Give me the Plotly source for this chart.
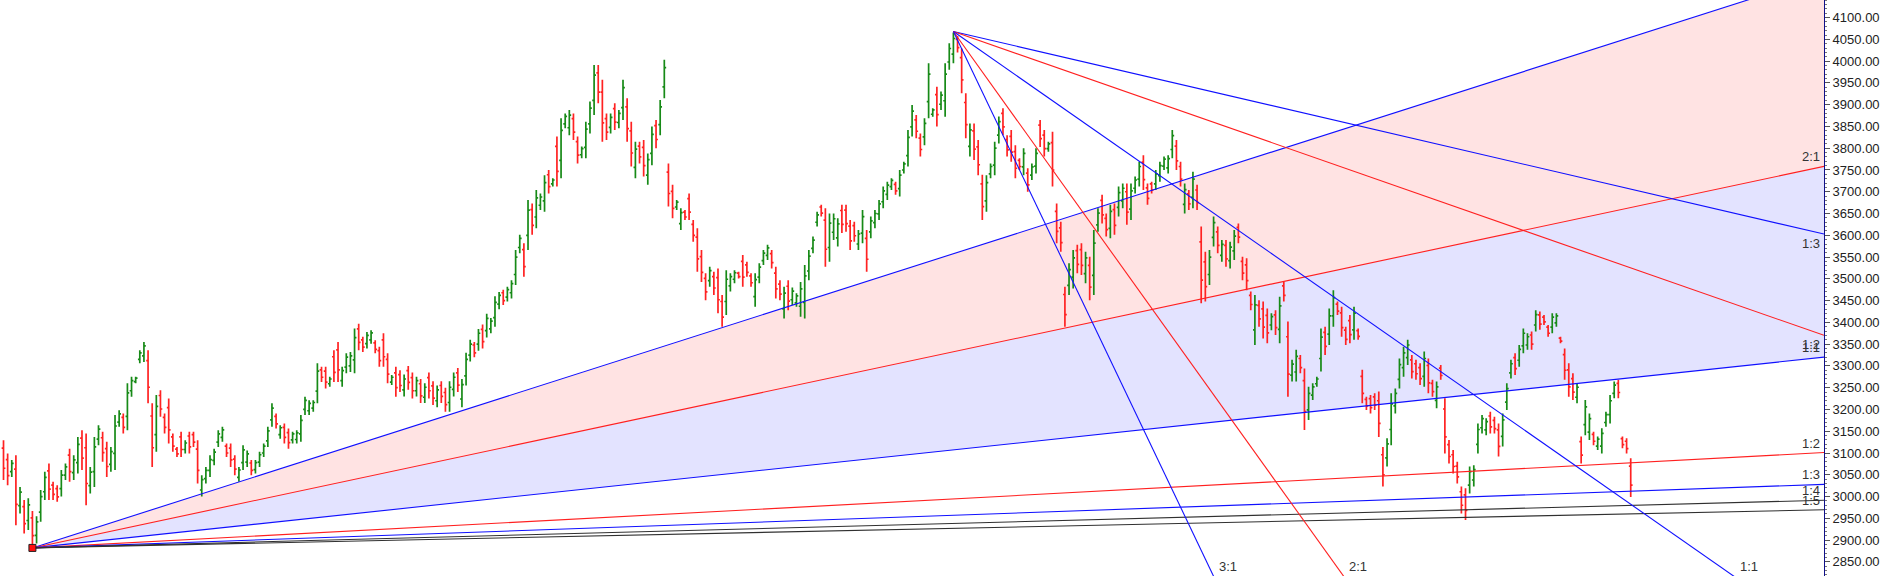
import plotly.graph_objects as go

# one bar per session, x is the bar number (no time axis is shown)
highs = [
    # first swing low and rally
    3129, 3099, 3084, 3095, 3022, 2992, 2996, 2967, 2955, 3015,
    3057, 3076, 3034, 3026, 3061, 3076, 3110, 3095, 3137, 3152,
    3145, 3068, 3137, 3164, 3149, 3126, 3114, 3187, 3198, 3191,
    3260, 3275, 3275, 3336, 3355, 3336, 3214, 3233, 3244, 3191,
    3225, 3145, 3114, 3149, 3129, 3149, 3149, 3129, 3049, 3068,
    3095, 3110, 3152, 3160, 3122, 3122, 3095, 3068, 3118, 3106,
    3084, 3084, 3103, 3122, 3160, 3214, 3191, 3164, 3168, 3156,
    3149, 3152, 3187, 3229, 3221, 3221, 3306, 3298, 3298, 3275,
    3336, 3355, 3298, 3329, 3332, 3386, 3397, 3367, 3378, 3382,
    3359, 3344, 3375, 3329, 3279, 3298,
    3290, 3280, 3300, 3285, 3275, 3270, 3260, 3285, 3265, 3255,
    3265, 3250, 3265, 3285, 3295, 3270, 3330, 3360, 3355, 3385,
    3395, 3420, 3410, 3460, 3470, 3475,
    # run up to the first top
    3482, 3497, 3566, 3601, 3582, 3681, 3673, 3704, 3696, 3738,
    3750, 3731, 3827, 3869, 3880, 3888, 3880, 3827, 3804, 3861,
    3907, 3991, 3991, 3957, 3880, 3880, 3903, 3888, 3957, 3915,
    3861, 3815, 3815, 3819, 3788, 3850, 3865, 3911, 4003, 3765,
    3716, 3681,
    # pullback and second top
    3662, 3658, 3696, 3635, 3616, 3566, 3513, 3528, 3516, 3524,
    3463, 3520, 3513, 3520, 3516, 3555, 3539, 3513, 3513, 3536,
    3566, 3578, 3566, 3528, 3497, 3482, 3497, 3480, 3467, 3493,
    3532, 3566, 3597, 3654, 3670, 3662, 3650, 3650, 3639, 3670,
    3670, 3635, 3631, 3612, 3658, 3612, 3643, 3658, 3681, 3712,
    3723, 3731, 3723, 3750, 3769, 3842, 3899, 3876, 3834, 3869,
    3995, 3892, 3941, 3930, 3995,
    4041, 4066, 4058, 4029, 3926, 3857, 3857, 3819, 3739,
    # decline
    3738, 3765, 3815, 3873, 3892, 3830, 3842, 3807, 3777, 3800,
    3754, 3765, 3800, 3865, 3842, 3815, 3838, 3673, 3631, 3482,
    3536, 3566, 3578, 3582, 3562, 3551, 3612, 3662, 3693, 3650,
    3670, 3673, 3712, 3719, 3719, 3719, 3735, 3769, 3784, 3719,
    3723, 3750, 3769, 3781, 3784, 3842, 3819, 3769, 3719, 3704,
    3746, 3716, 3620, 3562, 3566, 3643, 3620, 3589, 3589,
    3585, 3612, 3627, 3551, 3547, 3471, 3463, 3451, 3448, 3432,
    3421, 3428, 3459, 3493, 3402, 3314, 3337, 3325, 3294, 3252,
    3260, 3275, 3386, 3390, 3432, 3474, 3448, 3436, 3390, 3417,
    3436, 3386, 3291, 3229, 3233, 3237, 3241, 3114, 3134, 3237,
    3248, 3317, 3344, 3360, 3325, 3314, 3306, 3333, 3317, 3268,
    3264, 3302,
    3226, 3130, 3107, 3080, 3023, 3019, 3069, 3072, 3168, 3187,
    3180, 3195, 3183, 3168, 3191, 3260, 3314, 3329, 3348, 3386,
    3375, 3379, 3428, 3425, 3417, 3394, 3421, 3421, 3367, 3340,
    3306, 3283, 3260, 3138, 3222, 3191, 3149, 3138, 3157, 3195,
    3233, 3264, 3268, 3138, 3134, 3088,
]

lows = [
    3038, 3026, 3045, 2934, 2961, 2915, 2923, 2885, 2892, 2942,
    2992, 2992, 2992, 2988, 3000, 3038, 3034, 3038, 3053, 3061,
    2980, 3007, 3022, 3118, 3080, 3045, 3057, 3061, 3160, 3145,
    3152, 3229, 3260, 3306, 3309, 3214, 3068, 3103, 3183, 3145,
    3122, 3103, 3091, 3091, 3099, 3099, 3114, 3030, 3000, 3030,
    3045, 3072, 3114, 3126, 3091, 3068, 3049, 3034, 3061, 3068,
    3049, 3053, 3068, 3091, 3114, 3160, 3156, 3133, 3122, 3110,
    3122, 3122, 3126, 3187, 3187, 3195, 3214, 3263, 3248, 3252,
    3263, 3263, 3252, 3283, 3286, 3283, 3336, 3332, 3340, 3351,
    3329, 3298, 3298, 3260, 3256, 3229,
    3240, 3230, 3245, 3225, 3230, 3215, 3215, 3225, 3210, 3205,
    3215, 3195, 3195, 3230, 3240, 3205, 3255, 3310, 3320, 3335,
    3340, 3365, 3375, 3390, 3430, 3440,
    3448, 3455, 3486, 3559, 3505, 3566, 3601, 3616, 3658, 3654,
    3696, 3712, 3712, 3731, 3846, 3830, 3819, 3765, 3777, 3777,
    3834, 3876, 3903, 3815, 3819, 3834, 3842, 3846, 3865, 3815,
    3758, 3731, 3765, 3735, 3716, 3761, 3800, 3830, 3915, 3666,
    3639, 3658,
    3612, 3635, 3635, 3585, 3516, 3493, 3451, 3482, 3463, 3421,
    3390, 3417, 3471, 3490, 3501, 3482, 3505, 3482, 3436, 3490,
    3532, 3543, 3524, 3455, 3451, 3409, 3428, 3440, 3436, 3413,
    3409, 3497, 3559, 3620, 3643, 3528, 3539, 3589, 3574, 3605,
    3608, 3566, 3585, 3566, 3582, 3516, 3593, 3616, 3635, 3662,
    3681, 3704, 3693, 3689, 3742, 3758, 3827, 3823, 3781, 3807,
    3869, 3872, 3850, 3888, 3872,
    3980, 3995, 4020, 3926, 3823, 3781, 3773, 3738, 3635,
    3654, 3731, 3738, 3811, 3830, 3781, 3769, 3731, 3750, 3738,
    3700, 3727, 3742, 3803, 3781, 3792, 3712, 3582, 3562, 3390,
    3463, 3478, 3513, 3509, 3490, 3451, 3463, 3608, 3627, 3597,
    3593, 3601, 3643, 3662, 3624, 3635, 3696, 3712, 3704, 3670,
    3696, 3704, 3723, 3750, 3742, 3777, 3750, 3712, 3650, 3658,
    3662, 3658, 3444, 3448, 3486, 3574, 3559, 3539, 3528,
    3524, 3543, 3582, 3497, 3474, 3428, 3348, 3390, 3363, 3352,
    3382, 3371, 3352, 3448, 3229, 3264, 3264, 3283, 3153, 3176,
    3222, 3252, 3287, 3325, 3348, 3390, 3417, 3367, 3348, 3352,
    3360, 3360, 3214, 3199, 3191, 3199, 3137, 3023, 3069, 3118,
    3191, 3248, 3275, 3302, 3271, 3268, 3256, 3252, 3237, 3229,
    3203, 3268,
    3099, 3076, 3053, 3030, 2961, 2946, 3007, 3023, 3099, 3145,
    3141, 3145, 3145, 3092, 3115, 3199, 3271, 3279, 3298, 3329,
    3337, 3337, 3379, 3383, 3394, 3367, 3375, 3390, 3352, 3268,
    3229, 3222, 3214, 3076, 3141, 3130, 3118, 3107, 3099, 3160,
    3168, 3226, 3226, 3111, 3099, 2999,
]

opens = [
    3111, 3085, 3057, 3063, 2979, 2977, 2945, 2951, 2911, 2964,
    3011, 3059, 3026, 3018, 3018, 3049, 3095, 3055, 3078, 3134,
    3112, 3025, 3057, 3132, 3135, 3110, 3074, 3099, 3171, 3182,
    3184, 3243, 3264, 3315, 3323, 3312, 3185, 3142, 3232, 3182,
    3204, 3137, 3109, 3137, 3108, 3139, 3142, 3109, 3015, 3041,
    3060, 3083, 3125, 3136, 3116, 3111, 3086, 3044, 3078, 3079,
    3077, 3062, 3079, 3100, 3128, 3176, 3184, 3142, 3159, 3147,
    3130, 3131, 3144, 3200, 3197, 3203, 3242, 3291, 3288, 3259,
    3321, 3337, 3266, 3297, 3300, 3314, 3385, 3360, 3351, 3360,
    3353, 3335, 3360, 3315, 3263, 3284,
    3280, 3245, 3289, 3273, 3243, 3259, 3228, 3273, 3254, 3220,
    3255, 3239, 3216, 3246, 3284, 3224, 3277, 3325, 3348, 3350,
    3384, 3381, 3385, 3411, 3442, 3468,
    3458, 3468, 3510, 3572, 3567, 3600, 3659, 3642, 3669, 3679,
    3739, 3718, 3804, 3772, 3856, 3847, 3868, 3815, 3785, 3802,
    3856, 3910, 3973, 3929, 3868, 3848, 3891, 3859, 3893, 3895,
    3840, 3756, 3805, 3802, 3738, 3788, 3852, 3854, 3941, 3745,
    3701, 3665,
    3627, 3653, 3684, 3625, 3596, 3551, 3501, 3496, 3505, 3503,
    3448, 3448, 3484, 3499, 3513, 3540, 3532, 3507, 3459, 3504,
    3542, 3554, 3558, 3513, 3488, 3431, 3483, 3452, 3445, 3437,
    3446, 3518, 3570, 3630, 3665, 3635, 3572, 3607, 3594, 3657,
    3658, 3621, 3622, 3580, 3605, 3593, 3608, 3629, 3649, 3677,
    3694, 3712, 3717, 3707, 3750, 3783, 3849, 3865, 3823, 3826,
    3907, 3878, 3923, 3901, 3909,
    3998, 4016, 4050, 4008, 3905, 3804, 3840, 3803, 3718,
    3679, 3741, 3761, 3830, 3880, 3820, 3827, 3792, 3772, 3757,
    3743, 3738, 3759, 3853, 3830, 3799, 3813, 3655, 3617, 3464,
    3485, 3504, 3565, 3567, 3512, 3531, 3508, 3624, 3680, 3639,
    3616, 3659, 3664, 3679, 3700, 3660, 3708, 3729, 3768, 3709,
    3718, 3718, 3737, 3759, 3755, 3797, 3805, 3758, 3671, 3695,
    3687, 3704, 3585, 3539, 3510, 3595, 3608, 3554, 3577,
    3542, 3564, 3618, 3540, 3532, 3462, 3383, 3439, 3431, 3416,
    3394, 3417, 3384, 3484, 3367, 3279, 3286, 3317, 3266, 3199,
    3233, 3259, 3317, 3377, 3373, 3415, 3442, 3422, 3382, 3404,
    3383, 3381, 3276, 3223, 3225, 3229, 3220, 3096, 3089, 3154,
    3208, 3269, 3296, 3319, 3314, 3305, 3296, 3276, 3301, 3260,
    3221, 3295,
    3201, 3119, 3096, 3070, 3011, 3004, 3026, 3038, 3120, 3158,
    3153, 3185, 3175, 3153, 3138, 3217, 3284, 3319, 3313, 3346,
    3348, 3371, 3394, 3417, 3412, 3389, 3389, 3399, 3364, 3326,
    3291, 3271, 3228, 3126, 3165, 3148, 3143, 3116, 3116, 3170,
    3188, 3237, 3260, 3133, 3127, 3070,
]

closes = [
    3065, 3048, 3076, 2982, 3010, 2938, 2981, 2910, 2942, 3000,
    3044, 3017, 3005, 2999, 3049, 3068, 3057, 3084, 3120, 3088,
    3030, 3056, 3114, 3155, 3101, 3069, 3103, 3162, 3190, 3159,
    3238, 3266, 3272, 3330, 3346, 3251, 3112, 3207, 3201, 3159,
    3153, 3116, 3098, 3108, 3123, 3114, 3125, 3060, 3039, 3060,
    3085, 3102, 3144, 3153, 3100, 3084, 3063, 3061, 3107, 3098,
    3060, 3078, 3096, 3116, 3151, 3203, 3167, 3158, 3136, 3124,
    3144, 3146, 3175, 3221, 3214, 3216, 3288, 3274, 3263, 3270,
    3285, 3291, 3289, 3320, 3323, 3365, 3354, 3343, 3370, 3376,
    3338, 3312, 3321, 3281, 3274, 3250,
    3255, 3270, 3262, 3243, 3266, 3231, 3251, 3243, 3226, 3245,
    3230, 3211, 3251, 3274, 3256, 3257, 3315, 3350, 3330, 3375,
    3356, 3409, 3403, 3446, 3462, 3450,
    3475, 3489, 3550, 3593, 3528, 3658, 3623, 3686, 3688, 3721,
    3712, 3727, 3747, 3841, 3873, 3876, 3837, 3784, 3799, 3844,
    3892, 3968, 3929, 3858, 3837, 3871, 3860, 3880, 3939, 3845,
    3789, 3798, 3780, 3760, 3774, 3832, 3820, 3895, 3985, 3696,
    3662, 3676,
    3652, 3642, 3653, 3600, 3546, 3515, 3470, 3519, 3479, 3452,
    3412, 3499, 3505, 3514, 3505, 3504, 3515, 3491, 3498, 3527,
    3559, 3571, 3537, 3477, 3465, 3467, 3449, 3472, 3461, 3477,
    3507, 3552, 3589, 3647, 3651, 3568, 3628, 3638, 3626, 3625,
    3627, 3587, 3599, 3603, 3643, 3545, 3633, 3650, 3672, 3702,
    3715, 3726, 3702, 3738, 3764, 3825, 3885, 3839, 3797, 3857,
    3970, 3888, 3877, 3922, 3970,
    4029, 4052, 4031, 3957, 3854, 3842, 3798, 3762, 3666,
    3721, 3758, 3800, 3861, 3849, 3796, 3791, 3754, 3758, 3788,
    3716, 3757, 3788, 3822, 3799, 3810, 3750, 3609, 3583, 3418,
    3521, 3548, 3533, 3531, 3548, 3481, 3582, 3651, 3647, 3613,
    3655, 3623, 3698, 3708, 3653, 3702, 3727, 3758, 3728, 3685,
    3704, 3741, 3760, 3775, 3776, 3829, 3771, 3729, 3705, 3672,
    3729, 3675, 3497, 3482, 3550, 3629, 3577, 3579, 3546,
    3573, 3598, 3596, 3513, 3496, 3441, 3440, 3408, 3389, 3376,
    3413, 3388, 3438, 3462, 3281, 3304, 3322, 3296, 3195, 3237,
    3252, 3270, 3366, 3345, 3415, 3457, 3426, 3388, 3361, 3372,
    3421, 3368, 3237, 3208, 3204, 3210, 3168, 3050, 3121, 3213,
    3237, 3303, 3330, 3348, 3287, 3282, 3271, 3317, 3261, 3241,
    3252, 3278,
    3137, 3092, 3069, 3045, 2980, 2968, 3057, 3062, 3154, 3179,
    3172, 3160, 3156, 3115, 3176, 3248, 3305, 3294, 3338, 3375,
    3367, 3350, 3418, 3396, 3401, 3375, 3412, 3415, 3357, 3290,
    3252, 3240, 3251, 3095, 3206, 3179, 3127, 3132, 3145, 3188,
    3220, 3256, 3239, 3119, 3110, 3026,
]

bars = list(range(len(highs)))

# visible window
x_range = [-0.85, 440.8]
y_range = [2817.5, 4140.4]

# Gann fan from the swing low (rising) and from the top (falling)
fan1_x, fan1_p = 7, 2882
fan1_unit = 1.01          # points per bar of the 1:1 line
fan1_ratios = [3, 2, 1, 1 / 2, 1 / 3, 1 / 4, 1 / 5]
fan1_labels = ["3:1", "2:1", "1:1", "1:2", "1:3", "1:4", "1:5"]

fan2_x, fan2_p = 230, 4068
fan2_unit = 6.62
fan2_ratios = [1 / 3, 1 / 2, 1, 2, 3]
fan2_labels = ["1:3", "1:2", "1:1", "2:1", "3:1"]

BLUE = "#1010ff"
RED = "#ff2020"
BLACK = "#303030"
fan1_colors = [BLUE, RED, BLUE, RED, BLUE, BLACK, BLACK]
fan2_colors = [BLUE, RED, BLUE, RED, BLUE]

x_end = x_range[1]
fan1_ends = [fan1_p + r * fan1_unit * (x_end - fan1_x) for r in fan1_ratios]
fan2_ends = [fan2_p - r * fan2_unit * (x_end - fan2_x) for r in fan2_ratios]


def zone(p_a, p_b, color):
    # shaded wedge between two rays of the rising fan, kept under the bars
    path = f"M {fan1_x},{fan1_p} L {x_end},{p_a} L {x_end},{p_b} Z"
    return dict(type="path", path=path, xref="x", yref="y", layer="below",
                fillcolor=color, line=dict(width=0))


fig = go.Figure()

fig.add_trace(go.Ohlc(
    x=bars, open=opens, high=highs, low=lows, close=closes,
    increasing=dict(line=dict(color="#178a17", width=1.7)),
    decreasing=dict(line=dict(color="#ff2222", width=1.7)),
    tickwidth=0.45, showlegend=False, hoverinfo="skip"))

annotations = []
lab_font = dict(family="Arial, Liberation Sans", size=13, color="#333333")

for end, col, lab in zip(fan1_ends, fan1_colors, fan1_labels):
    fig.add_trace(go.Scatter(x=[fan1_x, x_end], y=[fan1_p, end], mode="lines",
                             line=dict(color=col, width=1.1), hoverinfo="skip",
                             showlegend=False))
    if y_range[0] < end < y_range[1]:
        annotations.append(dict(x=x_end, y=end, text=lab, showarrow=False,
                                xanchor="right", yanchor="bottom", xshift=-2,
                                font=lab_font))

for end, col, lab, r in zip(fan2_ends, fan2_colors, fan2_labels, fan2_ratios):
    fig.add_trace(go.Scatter(x=[fan2_x, x_end], y=[fan2_p, end], mode="lines",
                             line=dict(color=col, width=1.1), hoverinfo="skip",
                             showlegend=False))
    if end > y_range[0]:
        annotations.append(dict(x=x_end, y=end, text=lab, showarrow=False,
                                xanchor="right", yanchor="top", xshift=-2,
                                font=lab_font))
    else:
        x_exit = fan2_x + (fan2_p - y_range[0]) / (r * fan2_unit)
        annotations.append(dict(x=x_exit, y=y_range[0], text=lab, showarrow=False,
                                xanchor="left", yanchor="bottom", xshift=4,
                                font=lab_font))

# anchor of the rising fan
fig.add_trace(go.Scatter(x=[fan1_x], y=[fan1_p], mode="markers",
                         marker=dict(symbol="square", size=7, color="#ff1010",
                                     line=dict(color="#202020", width=1)),
                         hoverinfo="skip", showlegend=False))

fig.update_layout(
    width=1885, height=576,
    margin=dict(l=0, r=61, t=0, b=0, autoexpand=False),
    paper_bgcolor="white", plot_bgcolor="white",
    shapes=[zone(fan1_ends[0], fan1_ends[1], "#ffe3e3"),
            zone(fan1_ends[1], fan1_ends[2], "#e3e3ff")],
    annotations=annotations,
    showlegend=False,
    xaxis=dict(visible=False, range=x_range, rangeslider=dict(visible=False),
               fixedrange=True),
    yaxis=dict(side="right", range=y_range, tick0=2850, dtick=50,
               tickformat=".2f", showgrid=False, zeroline=False,
               showline=True, linecolor="#10108a", linewidth=1,
               ticks="outside", ticklen=5, tickcolor="#555555",
               minor=dict(dtick=10, ticks="outside", ticklen=2,
                          tickcolor="#777777"),
               tickfont=dict(family="Arial, Liberation Sans", size=13,
                             color="#222222"),
               fixedrange=True),
)

fig.write_html("out.html", config={"displayModeBar": False},
               post_script="document.body.style.margin='0';"
                           "document.body.style.overflow='hidden';")
